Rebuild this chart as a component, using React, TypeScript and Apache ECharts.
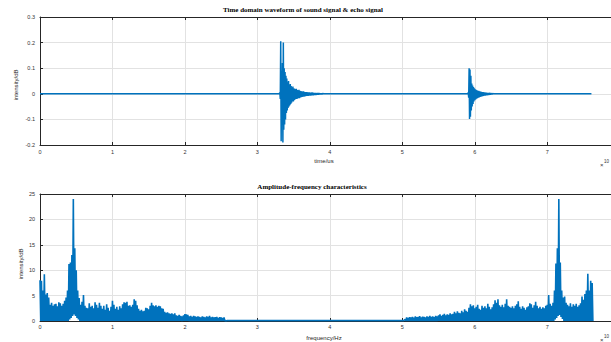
import React, { useEffect, useRef } from "react";
import * as echarts from "echarts";

// ---------- data ----------
const timeTicks = [0, 1, 2, 3, 4, 5, 6, 7];
const waveStep = 0.006; // sample spacing inside the bursts
const burst1Start = 3.31;
const burst1 = [
  0.004, -0.02, 0.205, -0.185, 0.09, -0.12, 0.12, -0.19, 0.2, -0.14, 0.1, -0.12, 0.085, -0.1, 0.07, -0.075,
  0.06, -0.065, 0.045, -0.055, 0.05, -0.05, 0.035, -0.045, 0.038, -0.04, 0.03, -0.035, 0.025, -0.03, 0.028,
  -0.03, 0.022, -0.025, 0.02, -0.022, 0.018, -0.02, 0.02, -0.02, 0.015, -0.018, 0.014, -0.016, 0.016, -0.017,
  0.012, -0.014, 0.011, -0.013, 0.01, -0.012, 0.009, -0.011, 0.01, -0.011, 0.008, -0.01, 0.007, -0.009, 0.007,
  -0.008, 0.007, -0.008, 0.006, -0.008, 0.006, -0.007, 0.006, -0.007, 0.005, -0.007, 0.005, -0.006, 0.006,
  -0.006, 0.005, -0.006, 0.004, -0.005, 0.004, -0.005, 0.004, -0.005, 0.003, -0.004, 0.003, -0.004, 0.003,
  -0.004, 0.003, -0.003, 0.002, -0.003, 0.002, -0.003, 0.002, -0.002, 0.001, 0,
];
const burst2Start = 5.91;
const burst2 = [
  0.005, -0.015, 0.1, -0.098, 0.095, -0.09, 0.07, -0.065, 0.04, -0.05, 0.032, -0.04, 0.026, -0.03, 0.022,
  -0.025, 0.018, -0.022, 0.016, -0.019, 0.014, -0.017, 0.012, -0.015, 0.012, -0.014, 0.01, -0.012, 0.009,
  -0.011, 0.008, -0.01, 0.007, -0.009, 0.007, -0.008, 0.006, -0.007, 0.006, -0.007, 0.005, -0.006, 0.005,
  -0.006, 0.004, -0.005, 0.004, -0.005, 0.004, -0.004, 0.003, -0.004, 0.003, -0.003, 0.002, -0.002, 0.001, 0,
];
const waveQuiet = [
  [0, 0],
  [3.3, 0],
  [3.92, 0],
  [5.9, 0],
  [6.26, 0],
  [7.61, 0],
];

const freqStep = 0.02; // FFT bin spacing (x10^4 Hz)
const specLeftStart = 0;
const specLeftHigh = [
  8.0, 7.9, 6.0, 9.2, 5.2, 5.5, 4.6, 3.2, 3.6, 3.0, 3.3, 3.4, 2.9, 3.7, 3.5, 3.0, 3.4, 4.0, 4.6, 6.0,
  11.2, 11.5, 13.0, 24.0, 14.3, 10.0, 6.0, 4.5, 3.2, 3.8, 5.1, 3.0, 2.6, 2.5, 3.5, 2.8, 3.0, 2.5, 3.7, 3.2,
  2.6, 3.6, 3.0, 2.4, 3.0, 2.2, 3.3, 2.6, 2.0, 2.8, 4.0, 3.2, 2.4, 2.8, 2.2, 2.9, 2.5, 3.3, 3.7, 3.6,
  3.8, 3.0, 3.1, 2.8, 3.2, 4.3, 4.0, 3.1, 2.4, 2.0, 2.2, 1.9, 2.0, 2.6, 2.5, 2.3, 3.0, 3.6, 3.1, 2.9,
  3.1, 2.8, 3.0, 2.9, 2.5, 2.4, 1.8, 1.6, 1.7, 1.5, 1.4, 1.5, 1.3, 1.5, 1.1, 1.0, 1.2, 1.0, 0.9, 1.1,
  1.35, 1.3, 1.2, 0.9, 1.0, 0.8, 1.0, 0.9, 0.8, 0.9, 0.8, 0.7, 0.9, 0.8, 0.7, 0.9, 0.8, 1.0, 0.7, 0.8,
  0.7, 0.75, 0.8, 0.6, 0.75, 0.7, 0.6, 0.7, 0.1,
];
const specMid = [
  [2.58, 0.08],
  [5.02, 0.08],
];
const specRightStart = 5.04;
const specRightHigh = [
  0.35, 0.7, 0.6, 0.75, 0.7, 0.8, 0.65, 0.9, 0.75, 0.8, 0.95, 0.7, 0.85, 0.8, 0.7, 0.9, 0.8, 1.0, 0.8, 0.9,
  0.75, 1.0, 0.9, 1.1, 1.3, 1.0, 1.2, 1.4, 1.1, 1.3, 1.2, 1.5, 1.3, 1.4, 1.8, 1.5, 1.9, 1.6, 1.5, 2.0,
  1.7, 2.3, 2.0, 1.8, 2.6, 3.3, 2.9, 3.1, 2.5, 2.8, 3.2, 2.4, 2.2, 3.0, 2.6, 2.9, 2.5, 3.4, 2.8, 2.3,
  2.7, 3.3, 4.1, 3.6, 4.3, 3.1, 2.8, 3.2, 2.7, 3.4, 4.3, 3.0, 2.8, 2.6, 2.9, 2.5, 3.0, 3.3, 3.9, 2.8,
  2.4, 2.9, 2.6, 2.2, 2.7, 2.9, 3.5, 3.3, 2.6, 3.1, 3.8, 3.0, 2.5, 2.8, 2.4, 2.7, 2.5, 3.0, 3.2, 5.1,
  3.4, 3.0, 3.6, 6.0, 11.3, 14.3, 24.0, 11.5, 6.0, 4.6, 4.8, 3.6, 3.2, 2.9, 3.5, 2.8, 3.3, 3.0, 3.4, 2.8,
  3.1, 3.5, 4.8, 4.2, 5.3, 6.0, 9.3, 6.0, 7.9, 7.5,
];
// minima of the dense trace near the two main peaks (elsewhere it reaches 0)
const specLowGaps = [
  [0.4, 0.3],
  [0.42, 0.6],
  [0.44, 1.0],
  [0.46, 1.3],
  [0.48, 1.0],
  [0.5, 0.6],
  [0.52, 0.3],
  [7.1, 0.3],
  [7.12, 0.6],
  [7.14, 1.0],
  [7.16, 1.2],
  [7.18, 0.8],
  [7.2, 0.4],
];

// ---------- build series data ----------
function burstPoints(start: number, vals: number[]) {
  return vals.map((v, i) => [start + i * waveStep, v]);
}
const waveData: number[][] = [
  waveQuiet[0],
  waveQuiet[1],
  ...burstPoints(burst1Start, burst1),
  waveQuiet[2],
  waveQuiet[3],
  ...burstPoints(burst2Start, burst2),
  waveQuiet[4],
  waveQuiet[5],
];

function lowAt(f: number) {
  const g = specLowGaps.find((p) => Math.abs(p[0] - f) < 1e-6);
  return g ? g[1] : 0;
}
function specPoints(start: number, highs: number[]) {
  const out: number[][] = [];
  highs.forEach((h, i) => {
    const f = Math.round((start + i * freqStep) * 1000) / 1000;
    out.push([f, h]);
    out.push([f + freqStep / 2, lowAt(f)]);
  });
  return out;
}
const specData: number[][] = [
  ...specPoints(specLeftStart, specLeftHigh),
  ...specMid,
  ...specPoints(specRightStart, specRightHigh),
];

// ---------- chart ----------
const BLUE = "#0072BD";
const AXIS = "#262626";
const GRIDC = "#e2e2e2";
const SANS = "'Liberation Sans', Arial, sans-serif";
const SERIF = "'Liberation Serif', 'Times New Roman', serif";
const X_MAX = 7.88; // visible end of the axis (figure is cropped at the right)

function xAxes(gridIndex: number, labelMargin: number) {
  return [
    {
      gridIndex,
      type: "value",
      min: 0,
      max: X_MAX,
      interval: 1,
      position: "bottom",
      axisLine: { show: true, onZero: false, lineStyle: { color: AXIS, width: 1 } },
      axisTick: { show: true, inside: true, length: 3, lineStyle: { color: AXIS } },
      axisLabel: {
        show: true,
        fontSize: 5.5,
        color: "#333",
        fontFamily: SANS,
        margin: labelMargin,
        showMaxLabel: false,
        formatter: (v: number) => (timeTicks.includes(v) ? String(v) : ""),
      },
      splitLine: { show: true, lineStyle: { color: GRIDC, width: 1 } },
    },
    {
      gridIndex,
      type: "value",
      min: 0,
      max: X_MAX,
      interval: 1,
      position: "top",
      axisLine: { show: true, onZero: false, lineStyle: { color: AXIS, width: 1 } },
      axisTick: { show: true, inside: true, length: 3, lineStyle: { color: AXIS } },
      axisLabel: { show: false },
      splitLine: { show: false },
    },
  ];
}

export default function App() {
  const ref = useRef<HTMLDivElement>(null);
  useEffect(() => {
    if (!ref.current) return;
    const chart = echarts.init(ref.current, undefined, { renderer: "svg" });
    chart.setOption({
      animation: false,
      backgroundColor: "#ffffff",
      grid: [
        { left: 40, top: 17, right: 0, height: 128 },
        { left: 40, top: 194, right: 0, height: 127 },
      ],
      xAxis: [...xAxes(0, 4), ...xAxes(1, 3)],
      yAxis: [
        {
          gridIndex: 0,
          type: "value",
          min: -0.2,
          max: 0.3,
          interval: 0.1,
          axisLine: { show: true, onZero: false, lineStyle: { color: AXIS, width: 1 } },
          axisTick: { show: true, inside: true, length: 3, lineStyle: { color: AXIS } },
          axisLabel: {
            fontSize: 5.5,
            color: "#333",
            fontFamily: SANS,
            margin: 5,
            formatter: (v: number) => {
              const r = Math.round(v * 10) / 10;
              return r === 0 ? "0" : r.toFixed(1);
            },
          },
          splitLine: { show: true, lineStyle: { color: GRIDC, width: 1 } },
        },
        {
          gridIndex: 1,
          type: "value",
          min: 0,
          max: 25,
          interval: 5,
          axisLine: { show: true, onZero: false, lineStyle: { color: AXIS, width: 1 } },
          axisTick: { show: true, inside: true, length: 3, lineStyle: { color: AXIS } },
          axisLabel: { fontSize: 5.5, color: "#333", fontFamily: SANS, margin: 5 },
          splitLine: { show: true, lineStyle: { color: GRIDC, width: 1 } },
        },
      ],
      series: [
        {
          type: "line",
          xAxisIndex: 0,
          yAxisIndex: 0,
          data: waveData,
          showSymbol: false,
          symbol: "none",
          lineStyle: { color: BLUE, width: 1.5 },
          z: 3,
        },
        {
          type: "line",
          xAxisIndex: 2,
          yAxisIndex: 1,
          data: specData,
          showSymbol: false,
          symbol: "none",
          lineStyle: { color: BLUE, width: 1.6 },
          z: 3,
        },
      ],
      graphic: [
        {
          type: "text",
          x: 303,
          y: 10,
          style: {
            text: "Time domain waveform of sound signal & echo signal",
            font: `bold 7px ${SERIF}`,
            fill: "#000",
            textAlign: "center",
            textVerticalAlign: "middle",
          },
        },
        {
          type: "text",
          x: 312,
          y: 186.5,
          style: {
            text: "Amplitude-frequency characteristics",
            font: `bold 7px ${SERIF}`,
            fill: "#000",
            textAlign: "center",
            textVerticalAlign: "middle",
          },
        },
        {
          type: "text",
          x: 324,
          y: 161,
          style: {
            text: "time/us",
            font: `6px ${SANS}`,
            fill: "#262626",
            textAlign: "center",
            textVerticalAlign: "middle",
          },
        },
        {
          type: "text",
          x: 324,
          y: 338,
          style: {
            text: "frequency/Hz",
            font: `6px ${SANS}`,
            fill: "#262626",
            textAlign: "center",
            textVerticalAlign: "middle",
          },
        },
        {
          type: "text",
          x: 16,
          y: 85,
          rotation: Math.PI / 2,
          style: {
            text: "intensity/dB",
            font: `6px ${SANS}`,
            fill: "#262626",
            textAlign: "center",
            textVerticalAlign: "middle",
          },
        },
        {
          type: "text",
          x: 20.5,
          y: 264,
          rotation: Math.PI / 2,
          style: {
            text: "intensity/dB",
            font: `6px ${SANS}`,
            fill: "#262626",
            textAlign: "center",
            textVerticalAlign: "middle",
          },
        },
        {
          type: "text",
          x: 600,
          y: 165,
          style: { text: "×", font: `6px ${SANS}`, fill: "#333", textVerticalAlign: "middle" },
        },
        {
          type: "text",
          x: 604,
          y: 161,
          style: { text: "10", font: `4.5px ${SANS}`, fill: "#333", textVerticalAlign: "middle" },
        },
        {
          type: "text",
          x: 600,
          y: 340,
          style: { text: "×", font: `6px ${SANS}`, fill: "#333", textVerticalAlign: "middle" },
        },
        {
          type: "text",
          x: 604,
          y: 336,
          style: { text: "10", font: `4.5px ${SANS}`, fill: "#333", textVerticalAlign: "middle" },
        },
      ],
    });
    return () => chart.dispose();
  }, []);
  return (
    <div
      ref={ref}
      style={{ position: "fixed", left: 0, top: 0, width: 611, height: 342, background: "#fff" }}
    />
  );
}
